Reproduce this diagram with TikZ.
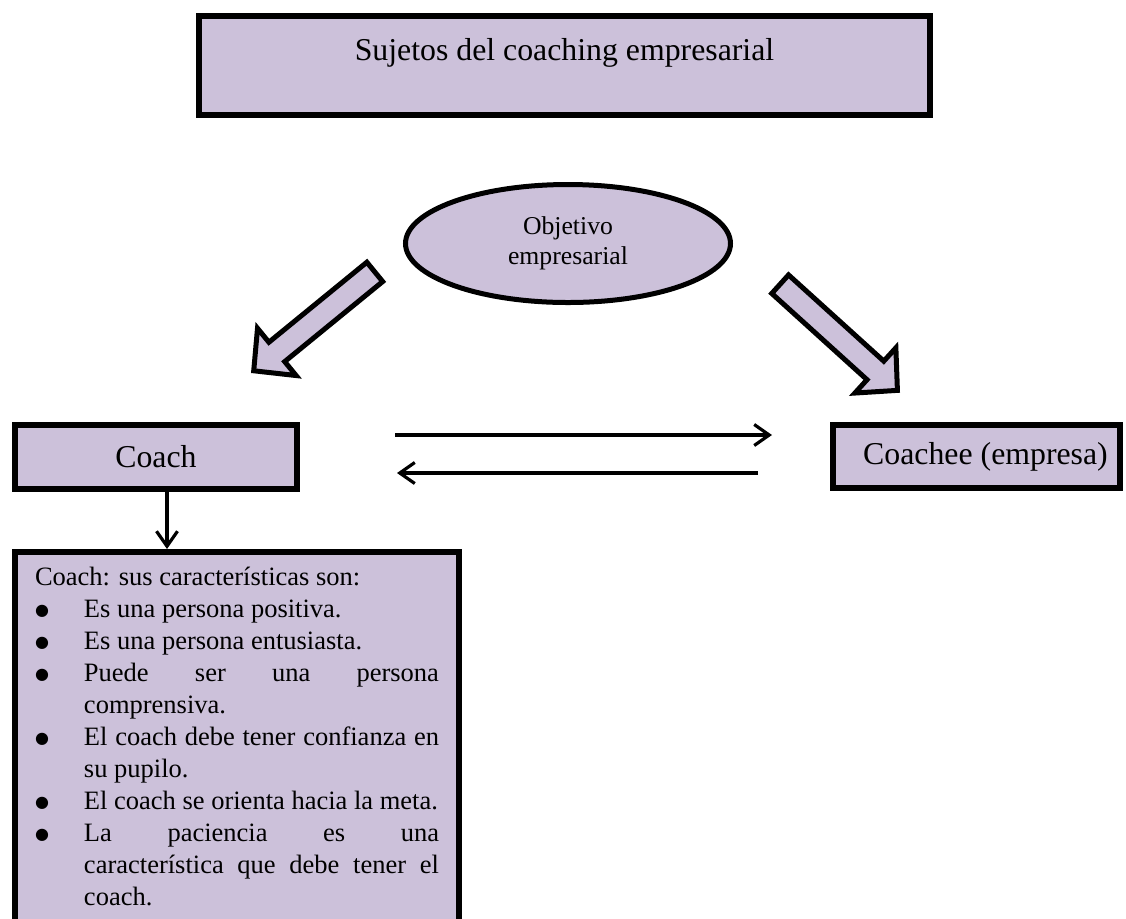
\documentclass[tikz,border=0pt]{standalone}
\usepackage{fontspec}
\setmainfont{Liberation Serif}
\newfontfamily\dotfont{DejaVu Sans}
\usetikzlibrary{shapes.geometric,arrows.meta,calc}
\definecolor{boxfill}{RGB}{204,193,218}

% one bulleted entry with a hanging indent
\newcommand{\bulletitem}{\par\hangindent=24.5pt\hangafter=1\noindent
  \makebox[24.5pt][l]{\raisebox{0.6pt}{\dotfont\fontsize{8}{8}\selectfont ●}}\ignorespaces}

\begin{document}
\begin{tikzpicture}[x=0.5pt,y=0.5pt,
  frame/.style={draw=black,line width=3pt,fill=boxfill,inner sep=0pt,outer sep=0pt},
  bigtext/.style={font=\fontsize{15.9}{19}\selectfont},
  link/.style={draw=black,line width=1.6pt,-{Straight Barb[length=7.5pt,width=10.5pt]}},
  blockarrow/.style={draw=black,line width=2.5pt,fill=boxfill,line join=miter}
]
\useasboundingbox (0,0) rectangle (1126,-918);
\clip (0,0) rectangle (1126,-918);

% heading
\node[frame,bigtext,minimum width=365.5pt,minimum height=49.5pt,
      text height=11pt,text depth=16.5pt] (title) at (564.5,-65.5)
  {Sujetos del coaching empresarial};

% goal
\node[draw=black,line width=2.5pt,fill=boxfill,ellipse,inner sep=0pt,
      minimum width=162.5pt,minimum height=59pt,align=center,
      font=\fontsize{12.85}{15}\selectfont] (goal) at (568,-243.5)
  {Objetivo\\empresarial};

% the two parties
\node[frame,bigtext,minimum width=141pt,minimum height=32pt] (coach) at (156,-457) {Coach};
\node[frame,bigtext,minimum width=143.5pt,minimum height=31.5pt] (coachee) at (976.5,-456.5)
  {\hspace*{9pt}Coachee (empresa)};

% traits of the coach
\node[frame,anchor=north west,inner xsep=10pt,inner ysep=6.5pt] (traits) at (15,-552)
  {\parbox[t][185pt][t]{202pt}{%
    \fontsize{13.25}{16}\selectfont
    \setlength{\parindent}{0pt}\hyphenpenalty=10000\exhyphenpenalty=10000\tolerance=10000
    \rule{0pt}{10pt}Coach: sus características son:
    \bulletitem Es una persona positiva.
    \bulletitem Es una persona entusiasta.
    \bulletitem Puede ser una persona\linebreak comprensiva.
    \bulletitem El coach debe tener confianza en\linebreak su pupilo.
    \bulletitem El coach se orienta hacia la meta.
    \bulletitem La paciencia es una\linebreak característica que debe tener el\linebreak coach.\par}};

% block arrows from the goal
\begin{scope}[shift={(376.7,-270.3)},rotate=219.25]
  \draw[blockarrow] (2.5,12.5) -- (129,12.5) -- (129,30.5) -- (158.8,0)
    -- (129,-30.5) -- (129,-12.5) -- (2.5,-12.5) -- cycle;
\end{scope}
\begin{scope}[shift={(778.3,-282.5)},rotate=-42.16]
  \draw[blockarrow] (2.5,12.5) -- (131,12.5) -- (131,30.5) -- (160.7,0)
    -- (131,-30.5) -- (131,-12.5) -- (2.5,-12.5) -- cycle;
\end{scope}

% exchange between coach and coachee
\coordinate (fwdstart) at ($(coach.east)+(98,22)$);
\coordinate (fwdend)   at ($(coachee.west)+(-61,21.5)$);
\coordinate (backstart) at ($(coachee.west)+(-75,-16.5)$);
\coordinate (backend)   at ($(coach.east)+(100,-16)$);
\draw[link] (fwdstart) -- (fwdend);
\draw[link] (backstart) -- (backend);

% coach to its traits
\draw[link,shorten >=1.5pt] ([xshift=5.5pt]coach.south) -- ([xshift=5.5pt]coach.south |- traits.north);
\end{tikzpicture}
\end{document}
